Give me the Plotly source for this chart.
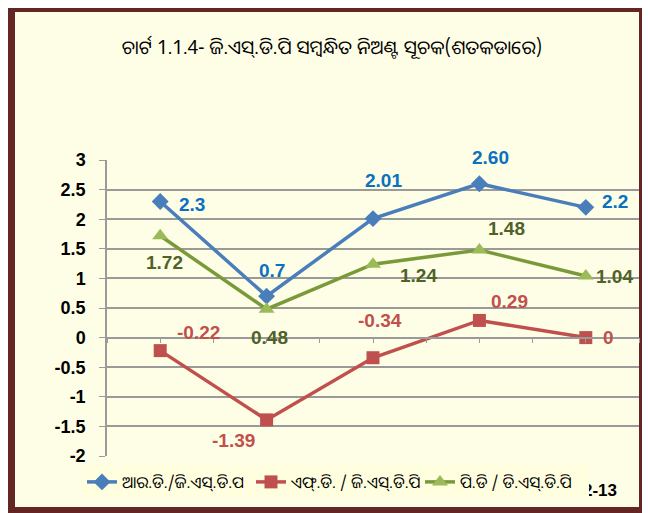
import plotly.graph_objects as go

# ---------------- data ----------------
years = ["2008-09", "2009-10", "2010-11", "2011-12", "2012-13"]
rd_gsdp = [2.3, 0.7, 2.01, 2.60, 2.2]
fd_gsdp = [-0.22, -1.39, -0.34, 0.29, 0.0]
pd_gsdp = [1.72, 0.48, 1.24, 1.48, 1.04]
rd_text = ["2.3", "0.7", "2.01", "2.60", "2.2"]
fd_text = ["-0.22", "-1.39", "-0.34", "0.29", "0"]
pd_text = ["1.72", "0.48", "1.24", "1.48", "1.04"]
series_names = ["ଆର.ଡି./ଜି.ଏସ୍.ଡି.ପ", "ଏଫ୍.ଡି. / ଜି.ଏସ୍.ଡି.ପି", "ପି.ଡି / ଡି.ଏସ୍.ଡି.ପି"]
title_text = "ଚାର୍ଟ 1.1.4- ଜି.ଏସ୍.ଡି.ପି ସମ୍ବନ୍ଧିତ ନିଅଣ୍ଟ ସୂଚକ(ଶତକଡାରେ)"
y_ticks = [3, 2.5, 2, 1.5, 1, 0.5, 0, -0.5, -1, -1.5, -2]

# ---------------- style ----------------
# the page body has an 8px margin, so the figure starts at (8, 8) of the window
OX, OY = 8, 8
W, H = 650 - OX, 513 - OY
PL, PR, PT, PB = 107, 639, 160, 456   # plot area in window pixels
ML, MR, MT, MB = PL - OX, W - (PR - OX), PT - OY, H - (PB - OY)
BG = "#FEFEE6"
BORDER = "#642624"
GRID = "#9A9A9A"
BLUE, BLUE_T = "#4A7EBB", "#0A70C0"
RED, RED_T = "#C0504D", "#C0504D"
GREEN_L, GREEN_M, GREEN_T = "#7A9A3A", "#9BBB59", "#4F6228"
# label offsets in pixels (dx, dy up)
rd_off = [(32, -3), (5, 26), (10, 38), (11, 26), (29, 6)]
fd_off = [(38, 18), (-33, -21), (7, 37), (30, 19), (23, 0)]
pd_off = [(4, -27), (3, -28), (45, -11), (27, 21), (29, 0)]

xs = list(range(len(years)))
fig = go.Figure()

series = [
    (rd_gsdp, series_names[0], BLUE, BLUE, "diamond", 13),
    (fd_gsdp, series_names[1], RED, RED, "square", 13),
    (pd_gsdp, series_names[2], GREEN_L, GREEN_M, "triangle-up", 14),
]
for vals, name, lc, mc, sym, ms in series:
    fig.add_trace(go.Scatter(
        x=xs, y=vals, name=name, mode="lines+markers",
        line=dict(color=lc, width=3.5),
        marker=dict(symbol=sym, size=ms, color=mc, line=dict(width=0)),
    ))

# empty trace so the zero-crossing tick axis is drawn
fig.add_trace(go.Scatter(x=[], y=[], xaxis="x2", yaxis="y", showlegend=False, hoverinfo="skip"))

annotations = []
for vals, texts, offs, col in [
    (rd_gsdp, rd_text, rd_off, BLUE_T),
    (fd_gsdp, fd_text, fd_off, RED_T),
    (pd_gsdp, pd_text, pd_off, GREEN_T),
]:
    for x, v, t, (dx, dy) in zip(xs, vals, texts, offs):
        annotations.append(dict(
            x=x, y=v, xref="x", yref="y", text=t, showarrow=False,
            xshift=dx, yshift=dy,
            font=dict(family="Liberation Sans, Arial", size=19, color=col, weight="bold"),
        ))

pw = W - ML - MR
ph = H - MT - MB
def px_x(p):  # window pixel -> paper x
    return (p - PL) / pw
def px_y(p):  # window pixel -> paper y
    return (PB - p) / ph

shapes = [
    dict(type="rect", xref="paper", yref="paper", layer="below",
         x0=px_x(8), x1=px_x(646), y0=px_y(520), y1=px_y(5),
         fillcolor=BORDER, line=dict(width=0)),
    dict(type="rect", xref="paper", yref="paper", layer="below",
         x0=px_x(15), x1=px_x(639), y0=px_y(507), y1=px_y(12),
         fillcolor=BG, line=dict(width=0)),
]

fig.update_layout(
    width=W, height=H,
    margin=dict(l=ML, r=MR, t=MT, b=MB, autoexpand=False),
    paper_bgcolor="white",
    plot_bgcolor="rgba(0,0,0,0)",
    shapes=shapes,
    annotations=annotations,
    title=dict(
        text=title_text, x=(332 - OX) / W, xanchor="center", y=1 - (47 - OY) / H, yanchor="middle",
        xref="container", yref="container",
        font=dict(family="Noto Sans Oriya, Noto Sans, Lato, sans-serif", size=19, color="black"),
    ),
    xaxis=dict(
        range=[-0.5, len(years) - 0.5], tickvals=xs, ticktext=years,
        showgrid=False, zeroline=False, showline=False, ticks="",
        ticklabelstandoff=22, automargin=False,
        tickfont=dict(family="Liberation Sans, Arial", size=17, color="black", weight="bold"),
        fixedrange=True,
    ),
    xaxis2=dict(
        overlaying="x", anchor="free", position=0.4, side="bottom",
        range=[-0.5, len(years) - 0.5], tick0=0, dtick=0.5, automargin=False,
        showticklabels=False, showgrid=False, zeroline=False,
        showline=True, linecolor=GRID, linewidth=1.5,
        ticks="outside", ticklen=5, tickcolor=GRID, tickwidth=1.3,
    ),
    yaxis=dict(
        range=[-2, 3], tickvals=y_ticks, ticktext=[f"{v:g}" for v in y_ticks],
        showgrid=True, gridcolor=GRID, gridwidth=1.5, automargin=False,
        zeroline=False, showline=True, linecolor=GRID, linewidth=1.5,
        ticks="outside", ticklen=6, tickcolor=GRID, tickwidth=1.3,
        ticklabelstandoff=10,
        tickfont=dict(family="Liberation Sans, Arial", size=18, color="black", weight="bold"),
    ),
    legend=dict(
        orientation="h", xref="container", yref="container",
        x=(82 - OX) / W, xanchor="left", y=1 - (465 - OY) / H, yanchor="top",
        bgcolor="#FFFFE0", borderwidth=0,
        font=dict(family="Noto Sans Oriya, Noto Sans, Lato, sans-serif", size=16, color="black"),
        itemwidth=30, tracegroupgap=0, entrywidth=124, entrywidthmode="pixels",
    ),
    showlegend=True,
)

fig.write_html("out.html")
